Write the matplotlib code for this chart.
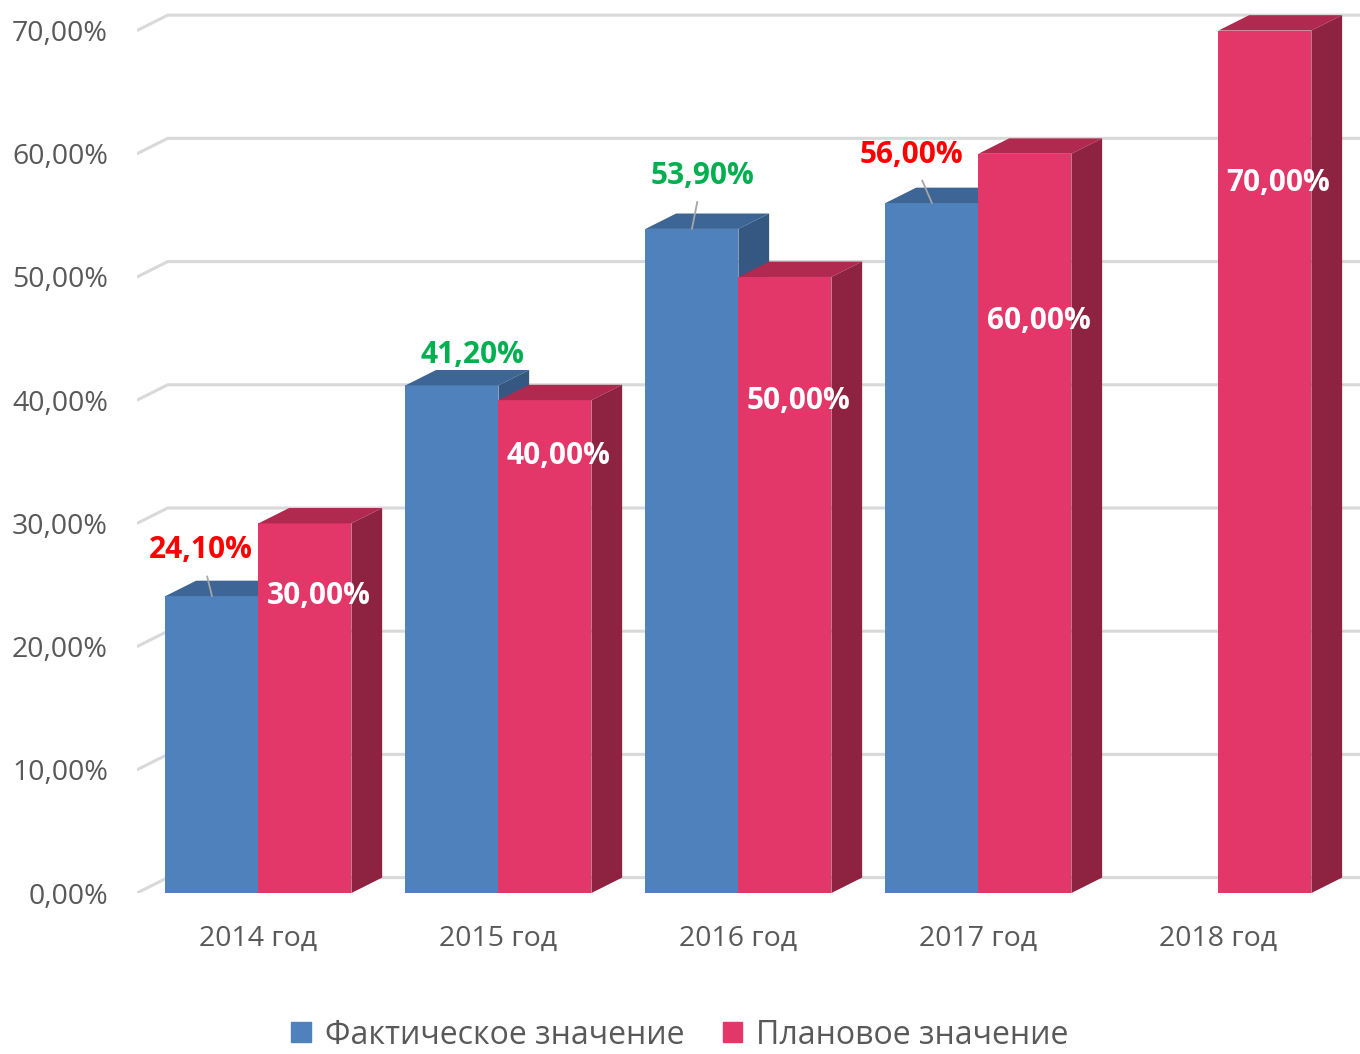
import numpy as np
import matplotlib
matplotlib.use('Agg')
import matplotlib.pyplot as plt
from matplotlib.patches import Polygon, Patch

plt.rcParams['font.family'] = ['Open Sans', 'DejaVu Sans']

years = ['2014 год', '2015 год', '2016 год', '2017 год', '2018 год']
fact = [24.1, 41.2, 53.9, 56.0, np.nan]
plan = [30.0, 40.0, 50.0, 60.0, 70.0]
yticks = [0, 10, 20, 30, 40, 50, 60, 70]

# label placement (data units)
fact_label_x = [-0.24, 0.89, 1.85, 2.72]
fact_label_y = [27.8, 43.7, 58.2, 59.9]
plan_label_y = [24.1, 35.5, 39.9, 46.4, 57.6]

blue = ('#4F81BD', '#3D6596', '#345882')
pink = ('#E3376A', '#B0294F', '#8E2241')
grid_c = '#D9D9D9'
text_c = '#595959'

w = 0.3875      # bar width
dx, dy = 0.128, 1.25   # fake depth

fig = plt.figure(figsize=(13.6, 10.54), dpi=100)
ax = fig.add_axes([137 / 1360, (1054 - 893) / 1054, 1 - 137 / 1360, 893 / 1054])
ax.set_xlim(-0.506, 4.59)
ax.set_ylim(0, 72.48)

# back wall gridlines with the little diagonal at the left
x0 = ax.get_xlim()[0]
x1 = ax.get_xlim()[1]
for v in yticks:
    ax.plot([x0, x0 + dx, x1], [v, v + dy, v + dy], color=grid_c, lw=2.2,
            zorder=1, solid_capstyle='butt')

x = np.arange(len(years))


def bars3d(xs, vals, cols, z):
    ax.bar(xs, vals, width=w, align='edge', color=cols[0], lw=0, zorder=z)
    for xl, v in zip(xs, vals):
        if np.isnan(v):
            continue
        xr = xl + w
        top = Polygon([(xl, v), (xr, v), (xr + dx, v + dy), (xl + dx, v + dy)],
                      closed=True, fc=cols[1], lw=0, zorder=z + 0.5)
        side = Polygon([(xr, 0), (xr + dx, dy), (xr + dx, v + dy), (xr, v)],
                       closed=True, fc=cols[2], lw=0, zorder=z + 0.5)
        ax.add_patch(top)
        ax.add_patch(side)


bars3d(x - w, fact, blue, 2)
bars3d(x, plan, pink, 3)

# labels for the plan bars
for i, v in enumerate(plan):
    ax.text(x[i] + 0.25, plan_label_y[i], f'{v:.2f}%'.replace('.', ','),
            color='white', fontsize=21.5, fontweight='bold',
            ha='center', va='center', zorder=6)

# labels for the actual values: green when the plan was beaten
for i, v in enumerate(fact):
    if np.isnan(v):
        continue
    col = '#00B050' if v > plan[i] else '#FF0000'
    lbl = f'{v:.2f}%'.replace('.', ',')
    if fact_label_y[i] - v > 3:
        ax.annotate(lbl, xy=(x[i] - w / 2, v), xytext=(fact_label_x[i], fact_label_y[i]),
                    color=col, fontsize=21.5, fontweight='bold', ha='center', va='center',
                    zorder=6,
                    arrowprops=dict(arrowstyle='-', color='#A6A6A6', lw=1.3,
                                    shrinkA=6, shrinkB=0))
    else:
        ax.text(fact_label_x[i], fact_label_y[i], lbl, color=col, fontsize=21.5,
                fontweight='bold', ha='center', va='center', zorder=6)

ax.set_yticks(yticks)
ax.set_yticklabels([f'{v},00%' for v in yticks])
ax.set_xticks(x)
ax.set_xticklabels(years)
ax.tick_params(axis='y', length=0, pad=21, labelsize=20.5, labelcolor=text_c)
ax.tick_params(axis='x', length=0, pad=23, labelsize=20.5, labelcolor=text_c)
for s in ax.spines.values():
    s.set_visible(False)

handles = [Patch(color=blue[0]), Patch(color=pink[0])]
fig.legend(handles, ['Фактическое значение', 'Плановое значение'],
           loc='center', bbox_to_anchor=(0.5, 1 - 1035 / 1054), ncol=2,
           frameon=False, fontsize=23, labelcolor=text_c,
           handlelength=0.6, handleheight=0.6, handletextpad=0.45,
           columnspacing=1.2, borderpad=0.1)

fig.savefig('out.png', dpi=100)
